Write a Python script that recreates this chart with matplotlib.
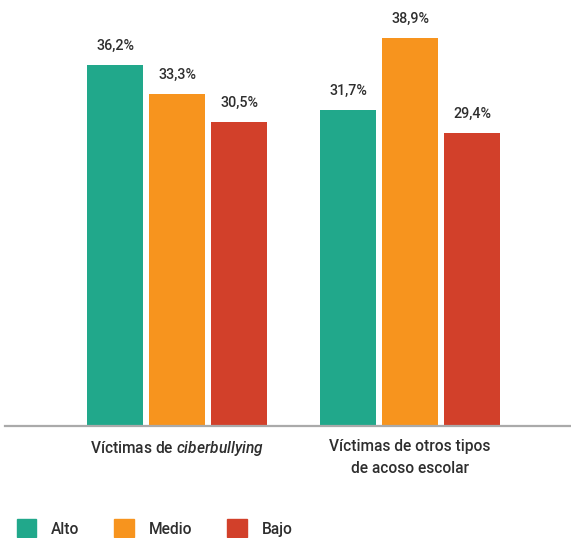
import matplotlib
matplotlib.use("Agg")
import matplotlib.pyplot as plt
import numpy as np
from matplotlib.patches import Patch

plt.rcParams["font.family"] = ["Roboto", "DejaVu Sans"]
plt.rcParams["font.weight"] = "medium"
plt.rcParams["mathtext.fontset"] = "custom"
plt.rcParams["mathtext.rm"] = "Roboto:medium"
plt.rcParams["mathtext.it"] = "Roboto:italic:medium"

categories = ["Víctimas de $\\it{ciberbullying}$", "Víctimas de otros tipos\nde acoso escolar"]
series = ["Alto", "Medio", "Bajo"]
values = {
    "Alto": [36.2, 31.7],
    "Medio": [33.3, 38.9],
    "Bajo": [30.5, 29.4],
}
colors = {"Alto": "#21a88b", "Medio": "#f7941e", "Bajo": "#d2402a"}
text_color = "#2e2e2e"

fig = plt.figure(figsize=(5.71, 5.38), dpi=100)
ax = fig.add_axes([5 / 571, 112 / 538, 566 / 571, 426 / 538])

x = np.arange(len(categories))
width = 56 / 233
step = 62 / 233
for i, s in enumerate(series):
    pos = x + (i - 1) * step
    bars = ax.bar(pos, values[s], width=width, color=colors[s], label=s)
    for b, v in zip(bars, values[s]):
        ax.annotate(f"{v:.1f}%".replace(".", ","),
                    (b.get_x() + b.get_width() / 2, v),
                    xytext=(0, 8.5), textcoords="offset points",
                    ha="center", va="bottom", fontsize=10.3, color=text_color)

ax.set_xlim(-172 / 233, 1 + 161 / 233)
ax.set_ylim(0, 426 / 9.97)
for sp in ["top", "right", "left"]:
    ax.spines[sp].set_visible(False)
ax.spines["bottom"].set_color("#aaaaaa")
ax.spines["bottom"].set_linewidth(1.6)
ax.set_yticks([])
ax.set_xticks(x)
ax.set_xticklabels(categories, fontsize=11.2, color=text_color, linespacing=1.65)
ax.tick_params(axis="x", length=0, pad=9)

handles = [Patch(color=colors[s]) for s in series]
fig.legend(handles, series, loc="lower left", bbox_to_anchor=(0.005, -0.025),
           ncol=3, frameon=False, fontsize=11.2, handlelength=1.25,
           handleheight=1.4, handletextpad=0.95, columnspacing=2.25,
           labelcolor=text_color)

fig.savefig("out.png", dpi=100)
